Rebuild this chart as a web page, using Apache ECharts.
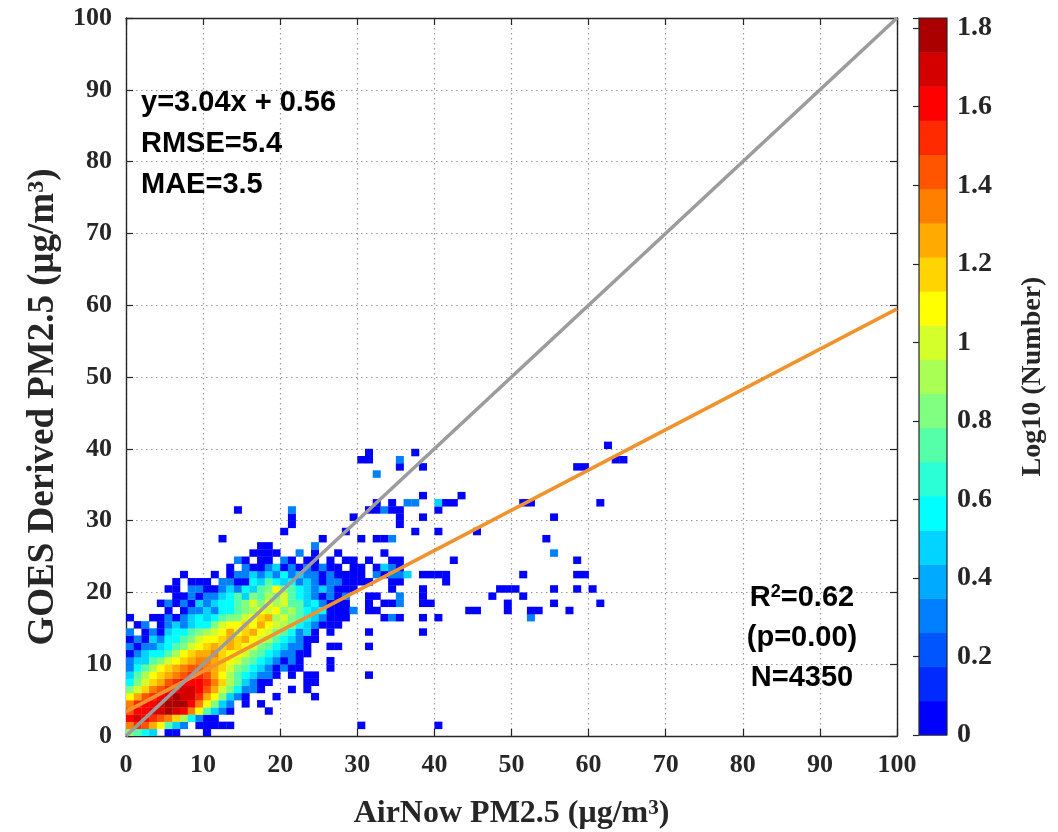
<!DOCTYPE html>
<html><head><meta charset="utf-8">
<script src="https://cdn.jsdelivr.net/npm/echarts@6/dist/echarts.min.js"></script>
<style>html,body{margin:0;padding:0;background:#fff}#chart{width:1058px;height:832px}</style>
</head><body><div id="chart"></div>
<script>
// ---- data ----
const axisTicks = [0,10,20,30,40,50,60,70,80,90,100];
const levelColors = ['#0000FF','#002AFF','#0055FF','#0080FF','#00AAFF','#00D4FF','#00FFFF','#2AFFD5','#55FFAA','#80FF80','#AAFF55','#D4FF2A','#FFFF00','#FFD400','#FFAA00','#FF8000','#FF5500','#FF2A00','#FF0000','#D40000','#AA0000'];
const levelMax = 1.826;           // top of colour bar (log10 count)
const levelChars = '0123456789abcdefghijk';
// one entry per 1x1 bin row (index = y bin); segments [xStart, level string], '.' = empty bin
const cellRows = [
 /*0*/  [[0,'9865.00...0']],
 /*1*/  [[0,'fhgec853.00000'],[30,'0'],[40,'0']],
 /*2*/  [[0,'ijihgfda6300']],
 /*3*/  [[0,'giijjkjifc8530'],[18,'0']],
 /*4*/  [[0,'fhiijkkkifc953.0.0']],
 /*5*/  [[0,'ceghijkjjhec9530'],[19,'0'],[24,'0']],
 /*6*/  [[0,'9bdfghijjigeb96330'],[21,'0.0']],
 /*7*/  [[0,'69bdeghiiihfda85300'],[23,'00']],
 /*8*/  [[0,'58acdefghhgeca865330.0.00'],[31,'0']],
 /*9*/  [[0,'368acdefggfedb986530300'],[26,'0']],
 /*10*/ [[0,'35589bcdeffedcb98653030'],[26,'0']],
 /*11*/ [[0,'035668acdeefdccb98653300']],
 /*12*/ [[0,'30335689bcdededcb9865330'],[26,'00'],[31,'0']],
 /*13*/ [[0,'030536689bccdedecba865300']],
 /*14*/ [[0,'3.03056689abcecdecb986350.0'],[31,'0'],[38,'0']],
 /*15*/ [[0,'.03.03535669bccdcecba9653000']],
 /*16*/ [[0,'0..003035656899bcdeab98653000'],[33,'030'],[38,'0.0'],[52,'3']],
 /*17*/ [[5,'0.033536689acbc9a86560003.00'],[44,'00'],[49,'0'],[52,'00'],[57,'0']],
 /*18*/ [[4,'030305356689b9cab88563000..0.003..00'],[49,'0'],[55,'0'],[61,'0']],
 /*19*/ [[6,'003033568598a9b86530303..00..3..0'],[47,'0'],[51,'0']],
 /*20*/ [[5,'00.33003536589c9865353000....0...0'],[48,'000'],[55,'0'],[58,'0.0']],
 /*21*/ [[6,'0.000.33006586563530330000..00'],[41,'0']],
 /*22*/ [[7,'0...0.033535363533030000.30335.0000'],[51,'0'],[58,'00']],
 /*23*/ [[13,'0.3003503030300.00.0530']],
 /*24*/ [[14,'30.00.30.00.0.00.0..00'],[42,'0'],[58,'0']],
 /*25*/ [[16,'0000..3.0..0'],[33,'0'],[55,'3']],
 /*26*/ [[17,'00.....3']],
 /*27*/ [[12,'0'],[25,'0'],[30,'0.003'],[54,'0']],
 /*28*/ [[20,'0'],[28,'0'],[37,'0..0'],[45,'0']],
 /*29*/ [[21,'0'],[35,'0']],
 /*30*/ [[21,'0'],[29,'0'],[35,'0..0'],[55,'0']],
 /*31*/ [[14,'0'],[21,'3'],[31,'00300'],[40,'0']],
 /*32*/ [[32,'0.0.33..500'],[51,'00'],[61,'0']],
 /*33*/ [[38,'0....0']],
 /*34*/ [],
 /*35*/ [],
 /*36*/ [[32,'3']],
 /*37*/ [[35,'0..0'],[58,'00']],
 /*38*/ [[30,'00...3'],[63,'00']],
 /*39*/ [[31,'0.....0']],
 /*40*/ [[62,'0']]
];
const identityLine = [[0,0],[100,100]];
const fitLine = [[0,3.4],[100,59.5]];
const statsLeft = ['y=3.04x + 0.56','RMSE=5.4','MAE=3.5'];
const statsRight = ['{b|R}{s|2}{b|=0.62}','(p=0.00)','N=4350'];

// ---- build ----
const levelStep = levelMax / levelColors.length;
const cells = [];
cellRows.forEach((segs, y) => segs.forEach(([x0, s]) => {
  for (let i = 0; i < s.length; i++) {
    if (s[i] === '.') continue;
    const lvl = levelChars.indexOf(s[i]);
    cells.push([x0 + i, y, (lvl + 0.5) * levelStep]);
  }
}));
const bands = levelColors.map((c, i) => [i * levelStep, (i + 1) * levelStep, i]);

const serif = 'Liberation Serif';
const sans = 'Liberation Sans';
const ink = '#262626';
const tickFont = {fontFamily: serif, fontWeight: 'bold', fontSize: 26, color: ink};

function mainAxis(pos, isX, labels) {
  return {
    type: 'value', position: pos, min: 0, max: 100, interval: 10, gridIndex: 0,
    axisLine: {show: true, onZero: false, lineStyle: {color: ink, width: 1.4}},
    axisTick: {show: true, inside: true, length: 7, lineStyle: {color: ink, width: 1.2}},
    axisLabel: labels ? Object.assign({show: true, margin: isX ? 16 : 14}, tickFont) : {show: false},
    splitLine: labels ? {show: true, lineStyle: {color: '#9a9a9a', width: 1.2, type: [1.5, 3.5]}} : {show: false}
  };
}
const xMain = mainAxis('bottom', true, true);
xMain.name = 'AirNow PM2.5 (μg/m{s|3})';
xMain.nameLocation = 'middle';
xMain.nameGap = 62;
xMain.nameTextStyle = {fontFamily: serif, fontWeight: 'bold', fontSize: 32, color: ink,
  rich: {s: {fontFamily: serif, fontWeight: 'bold', fontSize: 21, color: ink, verticalAlign: 'top'}}};
const yMain = mainAxis('left', false, true);
yMain.name = 'GOES Derived PM2.5 (μg/m{s|3})';
yMain.nameLocation = 'middle';
yMain.nameGap = 62;
yMain.nameTextStyle = {fontFamily: serif, fontWeight: 'bold', fontSize: 37, color: ink, padding: [0, 60, 0, 0],
  rich: {s: {fontFamily: serif, fontWeight: 'bold', fontSize: 24, color: ink, verticalAlign: 'top'}}};

const option = {
  animation: false,
  backgroundColor: '#fff',
  grid: [
    {left: 126, top: 18, width: 771, height: 718, outerBoundsMode: 'none', containLabel: false},
    {left: 919, top: 18, width: 28, height: 717, outerBoundsMode: 'none', containLabel: false}
  ],
  xAxis: [
    xMain,
    mainAxis('top', true, false),
    {type: 'value', gridIndex: 1, min: 0, max: 1, show: false}
  ],
  yAxis: [
    yMain,
    Object.assign(mainAxis('right', false, false), {gridIndex: 0}),
    {
      type: 'value', gridIndex: 1, position: 'right', min: 0, max: levelMax, interval: 0.2,
      axisLine: {show: false},
      axisTick: {show: true, inside: true, length: 6, lineStyle: {color: ink, width: 1.2}},
      axisLabel: Object.assign({margin: 10, formatter: v => {
        const k = v / 0.2; return Math.abs(k - Math.round(k)) < 1e-6 ? String(+v.toFixed(1)) : '';
      }}, tickFont, {fontSize: 28}),
      splitLine: {show: false},
      name: 'Log10 (Number)', nameLocation: 'middle', nameRotate: 90, nameGap: 72,
      nameTextStyle: {fontFamily: serif, fontWeight: 'bold', fontSize: 28, color: ink}
    }
  ],
  visualMap: {
    type: 'piecewise', show: false, seriesIndex: 0, dimension: 2,
    pieces: levelColors.map((c, i) => ({gte: i * levelStep, lt: (i + 1) * levelStep, color: c}))
  },
  series: [
    {
      type: 'custom', xAxisIndex: 0, yAxisIndex: 0, data: cells, z: 2, clip: true,
      renderItem: (params, api) => {
        const p0 = api.coord([api.value(0), api.value(1) + 1]);
        const p1 = api.coord([api.value(0) + 1, api.value(1)]);
        return {type: 'rect', shape: {x: p0[0], y: p0[1], width: p1[0] - p0[0] + 0.3, height: p1[1] - p0[1] + 0.3},
          style: {fill: api.visual('color')}};
      }
    },
    {type: 'line', xAxisIndex: 0, yAxisIndex: 0, data: fitLine, showSymbol: false, z: 4,
      lineStyle: {color: '#F0932F', width: 3.6}},
    {type: 'line', xAxisIndex: 0, yAxisIndex: 0, data: identityLine, showSymbol: false, z: 5,
      lineStyle: {color: '#9C9C9C', width: 3.6}},
    {
      type: 'custom', xAxisIndex: 2, yAxisIndex: 2, data: bands, z: 2,
      renderItem: (params, api) => {
        const p0 = api.coord([0, api.value(1)]);
        const p1 = api.coord([1, api.value(0)]);
        return {type: 'rect', shape: {x: p0[0], y: p0[1], width: p1[0] - p0[0], height: p1[1] - p0[1] + 0.5},
          style: {fill: levelColors[api.value(2)]}};
      }
    }
  ],
  graphic: [
    {type: 'rect', z: 100, shape: {x: 919, y: 18, width: 28, height: 717},
      style: {fill: 'none', stroke: ink, lineWidth: 1.2}},
    ...statsLeft.map((t, i) => ({type: 'text', z: 100, x: 141, y: 103 + i * 41,
      style: {text: t, fontFamily: sans, fontWeight: 'bold', fontSize: 29, fill: '#000', align: 'left', verticalAlign: 'middle'}})),
    ...statsRight.map((t, i) => ({type: 'text', z: 100, x: 802, y: 598 + i * 40,
      style: {text: t, fontFamily: sans, fontWeight: 'bold', fontSize: 29, fill: '#000', align: 'center', verticalAlign: 'middle',
        rich: {b: {fontFamily: sans, fontWeight: 'bold', fontSize: 29, fill: '#000'},
               s: {fontFamily: sans, fontWeight: 'bold', fontSize: 18, fill: '#000', verticalAlign: 'top'}}}}))
  ]
};
const chart = echarts.init(document.getElementById('chart'), null, {renderer: 'canvas'});
chart.setOption(option);
</script>
</body></html>
